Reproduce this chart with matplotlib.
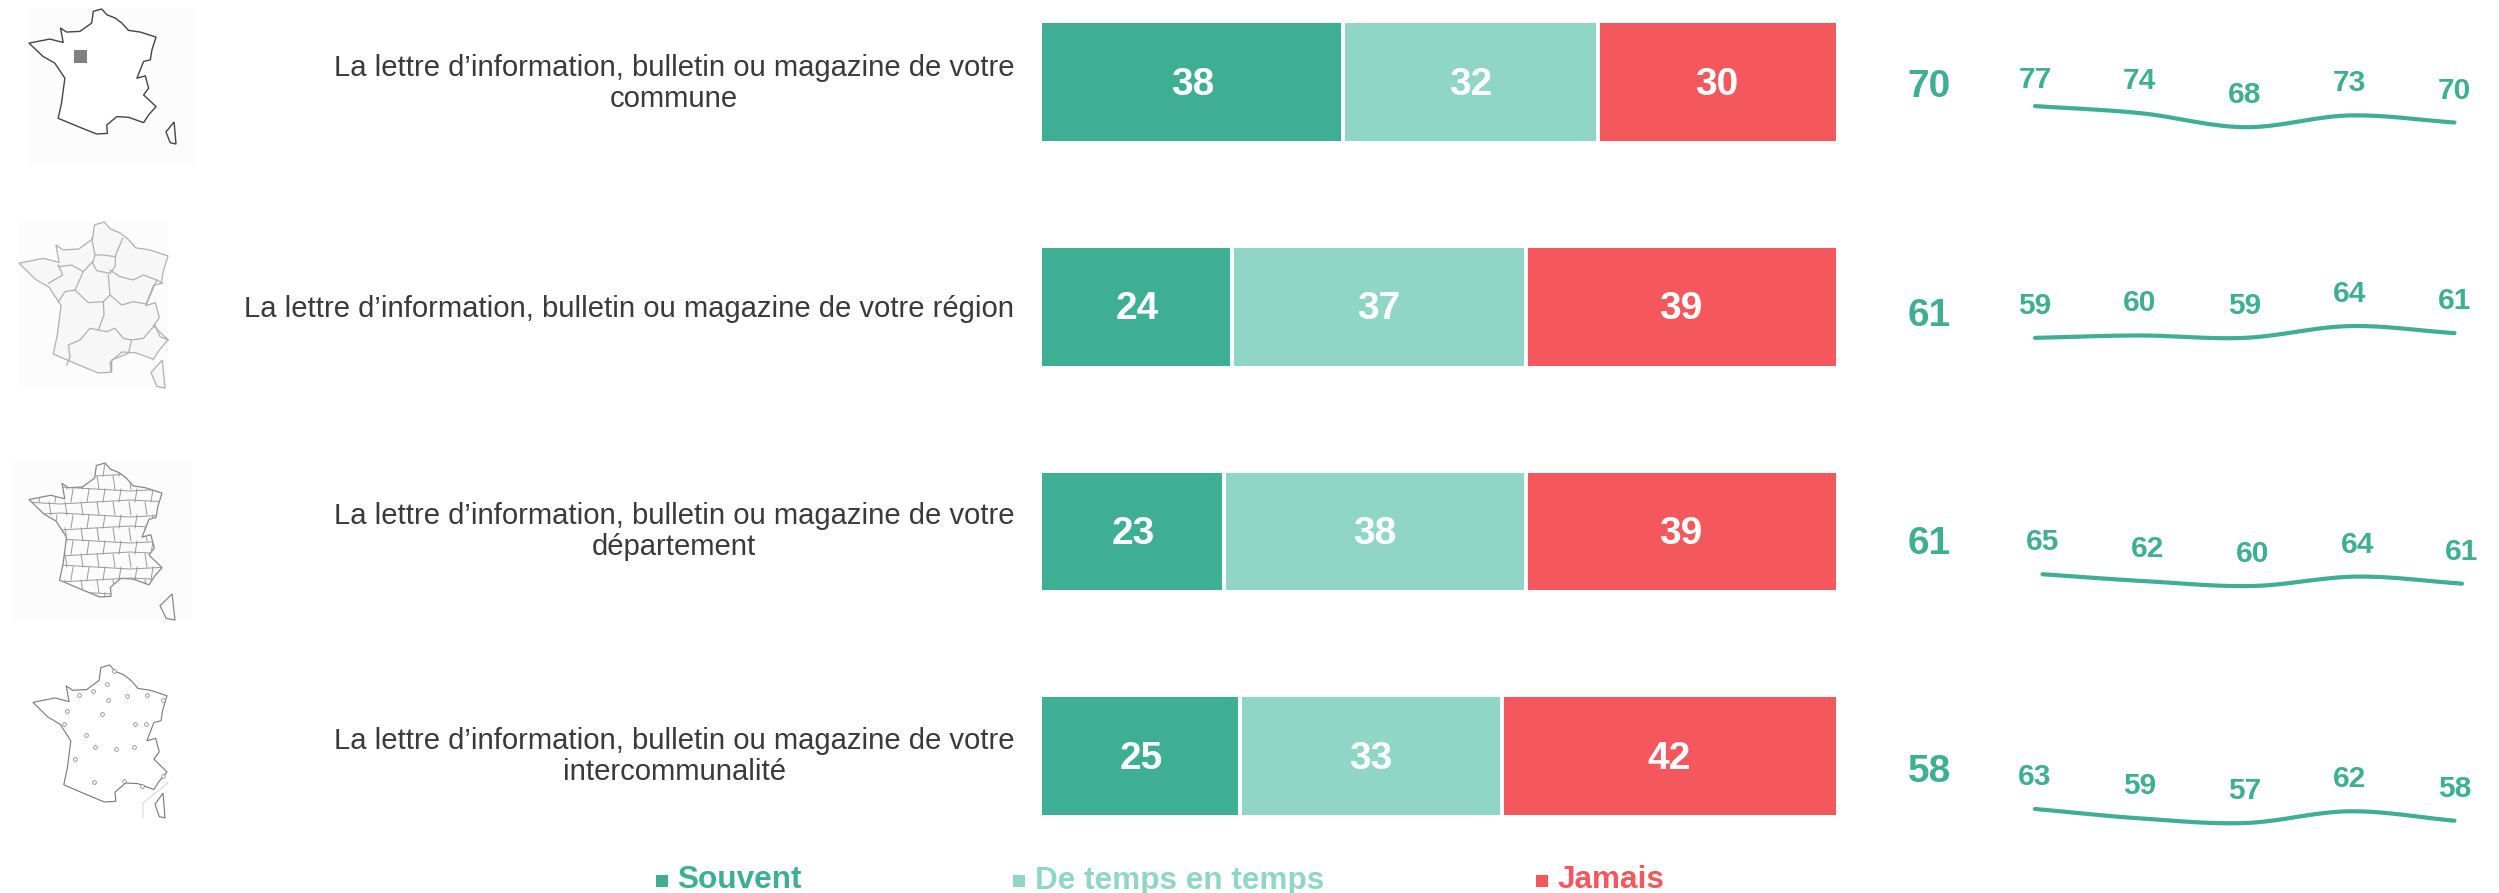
import numpy as np
import matplotlib
matplotlib.use("Agg")
import matplotlib.pyplot as plt
from matplotlib.patches import Polygon, Rectangle

plt.rcParams['font.family'] = ['Liberation Sans', 'DejaVu Sans']

# ---- data ----
categories = [
    "La lettre d\u2019information, bulletin ou magazine de votre\ncommune",
    "La lettre d\u2019information, bulletin ou magazine de votre région",
    "La lettre d\u2019information, bulletin ou magazine de votre\ndépartement",
    "La lettre d\u2019information, bulletin ou magazine de votre\nintercommunalité",
]
souvent = [38, 24, 23, 25]
de_temps = [32, 37, 38, 33]
jamais = [30, 39, 39, 42]
totals = [70, 61, 61, 58]
trend_1 = [77, 74, 68, 73, 70]
trend_2 = [59, 60, 59, 64, 61]
trend_3 = [65, 62, 60, 64, 61]
trend_4 = [63, 59, 57, 62, 58]
series_names = ["Souvent", "De temps en temps", "Jamais"]

# ---- style ----
GREEN, LIGHT, RED = "#3EAE94", "#8FD6C6", "#F4575C"
W, H = 2499, 893
fig = plt.figure(figsize=(W / 100, H / 100), dpi=100, facecolor="white")


def rect(x0, y0, x1, y1):
    return [x0 / W, 1 - y1 / H, (x1 - x0) / W, (y1 - y0) / H]


# pixel overlay for decoration and free text
px = fig.add_axes([0, 0, 1, 1], zorder=0)
px.set_xlim(0, W)
px.set_ylim(H, 0)
px.axis("off")

# ---- stacked bars ----
ax = fig.add_axes(rect(1041.5, 23.3, 1836, 815), zorder=1)
half = 117.5 / 224.6 / 2
ax.set_xlim(0, 100)
ax.set_ylim(3 + half, -half)
ax.axis("off")
rows = np.arange(4)
left = np.zeros(4)
for vals, col in zip([souvent, de_temps, jamais], [GREEN, LIGHT, RED]):
    vals = np.array(vals)
    ax.barh(rows, vals, left=left, height=2 * half, color=col, linewidth=0)
    for r, v, l in zip(rows, vals, left):
        ax.text(l + v / 2, r + 0.012, str(v), color="white", fontsize=28, fontweight="bold",
                ha="center", va="center")
    left = left + vals
    if col != RED:
        ax.vlines(left, rows - half, rows + half, color="white", linewidth=2.8)

# ---- category labels ----
for label, yc in zip(categories, [83.5, 309, 531.5, 756.5]):
    px.text(1014.5, yc, label, ha="right", va="center", multialignment="center",
            fontsize=21.1, color="#3a3a3a", linespacing=1.18)

# ---- totals ----
for t, y in zip(totals, [87, 316, 544, 772]):
    px.text(1929, y, str(t), color=GREEN, fontsize=28, fontweight="bold", ha="center", va="center")


# ---- smoothed trend lines ----
def smooth(values, n=30):
    y = np.array(values, float)
    x = np.arange(len(y))
    m = np.gradient(y)
    xs, ys = [], []
    for i in range(len(y) - 1):
        t = np.linspace(0, 1, n)
        h00 = 2 * t**3 - 3 * t**2 + 1
        h10 = t**3 - 2 * t**2 + t
        h01 = -2 * t**3 + 3 * t**2
        h11 = t**3 - t**2
        xs.append(x[i] + t)
        ys.append(h00 * y[i] + h10 * m[i] + h01 * y[i + 1] + h11 * m[i + 1])
    return np.concatenate(xs), np.concatenate(ys)


PX_PER_UNIT = 2.35
trends = [trend_1, trend_2, trend_3, trend_4]
y_at_60 = [146, 335.5, 586, 816]
x_start = [2035, 2035, 2042.5, 2035]
for k, tr in enumerate(trends):
    top = y_at_60[k] - 25 * PX_PER_UNIT
    bot = y_at_60[k] + 10 * PX_PER_UNIT
    a = fig.add_axes(rect(x_start[k], top, x_start[k] + 419.5, bot), zorder=2)
    a.patch.set_alpha(0)
    a.set_xlim(0, 4)
    a.set_ylim(50, 85)
    a.axis("off")
    xs, ys = smooth(tr)
    a.plot(xs, ys, color=GREEN, lw=3, solid_capstyle="round", clip_on=False)
    for i, v in enumerate(tr):
        off = 32
        if k == 0 and i == 0:
            off = 26
        a.annotate(str(v), (i, v), xytext=(0, off * 0.72), textcoords="offset points",
                   ha="center", va="center", color=GREEN, fontsize=21.5, fontweight="bold",
                   annotation_clip=False)

# ---- legend ----
for name, col, sx, tx in zip(series_names, [GREEN, LIGHT, RED], [656, 1013, 1536], [677, 1035, 1557]):
    px.add_patch(Rectangle((sx, 875), 12, 12, color=col, lw=0))
    px.text(tx, 880.5, name, color=col, fontsize=22.7, fontweight="bold", ha="left", va="center")

# ---- decorative locator maps (outlines sketched from the thumbnails) ----
france = np.array([(280, 35), (305, 28), (320, 45), (345, 55), (365, 70), (385, 92), (420, 97), (467, 112),
                   (455, 150), (450, 180), (430, 185), (410, 235), (435, 228), (445, 265), (430, 285),
                   (467, 320), (445, 345), (430, 368), (385, 352), (350, 350), (320, 375), (322, 400),
                   (290, 402), (240, 382), (175, 355), (185, 310), (195, 235), (165, 190), (130, 170),
                   (88, 130), (150, 118), (190, 128), (182, 85), (200, 97), (240, 95), (275, 70)], float)
corsica = np.array([(522, 365), (528, 432), (510, 428), (497, 395)], float)


def fit(pts, x0, y0, x1, y1):
    lo, hi = pts.min(0), pts.max(0)
    return (pts - lo) / (hi - lo) * [x1 - x0, y1 - y0] + [x0, y0]


def draw_map(panel, main_box, cors_box, edge, face, lw):
    if panel:
        px.add_patch(Rectangle(panel[:2], panel[2] - panel[0], panel[3] - panel[1], color="#fcfcfc", lw=0))
    poly = Polygon(fit(france, *main_box), closed=True, fc=face, ec=edge, lw=lw, joinstyle="round")
    px.add_patch(poly)
    px.add_patch(Polygon(fit(corsica, *cors_box), closed=True, fc=face, ec=edge, lw=lw))
    return poly


# map 1: commune
draw_map((29, 9, 196, 166), (29, 9, 156, 134), (166, 122, 176, 144), "#444444", "white", 1.0)
px.add_patch(Rectangle((74, 50), 13, 13, color="#808080", lw=0))

# map 2: regions
p2 = draw_map((19, 222, 168, 389), (19, 222, 168, 373), (151, 360, 165, 388), "#b0b0b0", "#f7f7f7", 0.9)
region_lines = [
    [(275, 715), (285, 765), (278, 790), (290, 812), (330, 820), (345, 800), (347, 765), (368, 715)],
    [(285, 765), (310, 765), (345, 770)],
    [(175, 800), (215, 795), (250, 815), (278, 785)],
    [(175, 795), (188, 825), (145, 850)],
    [(250, 815), (225, 870), (265, 908), (310, 905), (330, 885), (325, 825)],
    [(225, 870), (195, 875), (175, 905)],
    [(330, 810), (360, 830), (400, 840), (430, 825), (470, 840), (488, 850)],
    [(330, 885), (365, 915), (400, 905), (440, 912), (470, 840)],
    [(310, 905), (312, 945), (295, 990), (270, 985), (240, 1020), (205, 1035), (210, 1070), (200, 1095)],
    [(295, 990), (320, 995), (345, 985), (370, 1015), (395, 1020), (385, 1060), (335, 1080), (335, 1115)],
    [(395, 1020), (430, 1015), (465, 975), (480, 1010), (505, 1020)],
]
for seg in region_lines:
    s = np.array(seg, float) / 3
    px.plot(s[:, 0], s[:, 1], color="#b0b0b0", lw=0.9)

# map 3: departments (brick lattice clipped to the outline)
p3 = draw_map((12, 460, 192, 622), (29, 463, 162, 597), (160, 594, 175, 620), "#888888", "#fbfbfb", 0.9)
for j, yy in enumerate(np.arange(463, 600, 13)):
    wob = 2 if j % 2 else -2
    l, = px.plot([25, 60, 95, 130, 170], [yy, yy + wob, yy, yy - wob, yy], color="#999999", lw=0.7)
    l.set_clip_path(p3)
    for xx in np.arange(25 + 8 * (j % 2), 170, 16):
        l, = px.plot([xx, xx + wob], [yy, yy + 13], color="#999999", lw=0.7)
        l.set_clip_path(p3)

# map 4: main towns
draw_map(None, (33, 665, 167, 802), (155, 793, 165, 818), "#777777", "white", 0.8)
towns = np.array([(342, 693), (320, 733), (278, 752), (236, 765), (380, 768), (440, 766), (325, 780),
                  (490, 780), (200, 813), (307, 822), (192, 853), (405, 851), (437, 851), (258, 885),
                  (403, 920), (285, 920), (347, 928), (225, 957), (283, 1025), (372, 1022),
                  (425, 1037), (490, 1008)], float) / 3 + [0, 440]
px.scatter(towns[:, 0], towns[:, 1], s=7, facecolor="white", edgecolor="#777777", lw=0.5, zorder=3)
px.plot([168, 143, 143], [783, 803, 818], color="#cccccc", lw=0.6)

fig.savefig("out.png", dpi=100)
